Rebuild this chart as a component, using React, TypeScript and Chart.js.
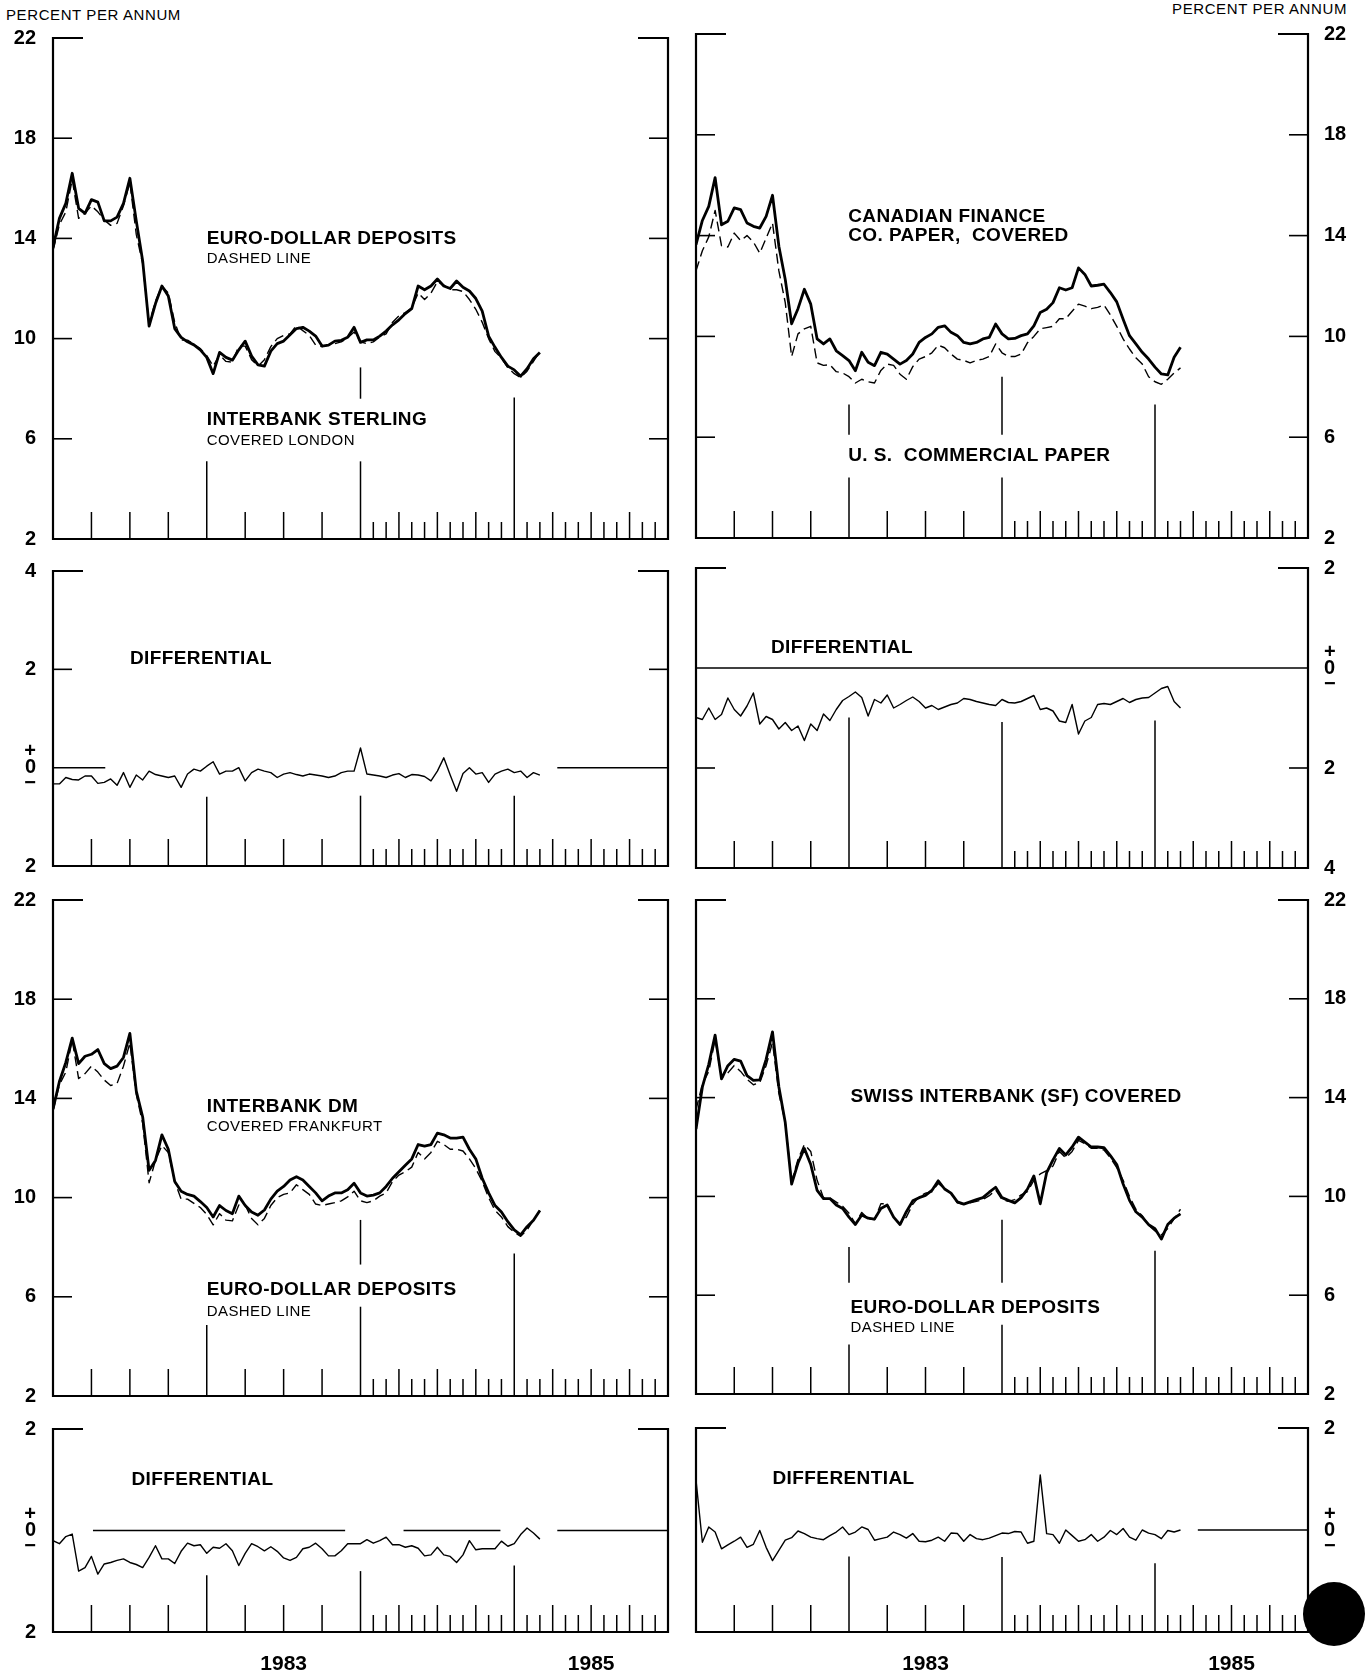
import React, { useEffect, useRef } from "react";
import { Chart, registerables } from "chart.js";

Chart.register(...registerables);

// ---------------- DATA (semi-monthly observations, percent per annum) ----------------
const periods = [
  "1982-01-01", "1982-01-16", "1982-02-01", "1982-02-16", "1982-03-01", "1982-03-16",
  "1982-04-01", "1982-04-16", "1982-05-01", "1982-05-16", "1982-06-01", "1982-06-16",
  "1982-07-01", "1982-07-16", "1982-08-01", "1982-08-16", "1982-09-01", "1982-09-16",
  "1982-10-01", "1982-10-16", "1982-11-01", "1982-11-16", "1982-12-01", "1982-12-16",
  "1983-01-01", "1983-01-16", "1983-02-01", "1983-02-16", "1983-03-01", "1983-03-16",
  "1983-04-01", "1983-04-16", "1983-05-01", "1983-05-16", "1983-06-01", "1983-06-16",
  "1983-07-01", "1983-07-16", "1983-08-01", "1983-08-16", "1983-09-01", "1983-09-16",
  "1983-10-01", "1983-10-16", "1983-11-01", "1983-11-16", "1983-12-01", "1983-12-16",
  "1984-01-01", "1984-01-16", "1984-02-01", "1984-02-16", "1984-03-01", "1984-03-16",
  "1984-04-01", "1984-04-16", "1984-05-01", "1984-05-16", "1984-06-01", "1984-06-16",
  "1984-07-01", "1984-07-16", "1984-08-01", "1984-08-16", "1984-09-01", "1984-09-16",
  "1984-10-01", "1984-10-16", "1984-11-01", "1984-11-16", "1984-12-01", "1984-12-16",
  "1985-01-01", "1985-01-16", "1985-02-01", "1985-02-16", "1985-03-01",
];

const euroDollarDeposits = [
  13.5, 14.55, 15.06, 16.35, 14.8, 15.0, 15.3, 15.06, 14.74, 14.52,
  14.6, 15.3, 16.23, 14.16, 12.99, 10.6, 11.5, 12.1, 11.82, 10.65,
  9.94, 9.94, 9.77, 9.6, 9.32, 8.9, 9.35, 9.09, 9.06, 9.7,
  9.7, 9.16, 8.9, 9.16, 9.68, 10.0, 10.13, 10.19, 10.52, 10.32,
  10.13, 9.74, 9.68, 9.74, 9.8, 9.87, 10.03, 10.26, 9.87, 9.8,
  9.87, 10.06, 10.19, 10.65, 10.91, 11.04, 11.23, 11.82, 11.56, 11.82,
  12.27, 12.14, 11.95, 11.95, 11.88, 11.56, 11.17, 10.65, 10.0, 9.48,
  9.22, 8.83, 8.6, 8.44, 8.7, 9.09, 9.48,
];

const interbankSterlingCovered = [
  13.64, 14.8, 15.4, 16.6, 15.2, 15.0, 15.55, 15.45, 14.7, 14.7,
  14.85, 15.4, 16.4, 14.7, 13.1, 10.5, 11.4, 12.1, 11.7, 10.4,
  10.05, 9.87, 9.75, 9.55, 9.25, 8.6, 9.45, 9.25, 9.14, 9.55,
  9.9, 9.3, 8.95, 8.9, 9.5, 9.8, 9.9, 10.15, 10.4, 10.45,
  10.3, 10.1, 9.7, 9.74, 9.9, 9.93, 10.05, 10.45, 9.85, 9.95,
  9.95, 10.1, 10.3, 10.55, 10.75, 11.0, 11.2, 12.1, 11.95, 12.1,
  12.38, 12.1, 12.0, 12.3, 12.05, 11.9, 11.6, 11.1, 10.1, 9.65,
  9.25, 8.9, 8.75, 8.5, 8.8, 9.2, 9.45,
];

const canadianFinanceCovered = [
  13.64, 14.6, 15.16, 16.3, 14.43, 14.57, 15.1, 15.03, 14.5, 14.37,
  14.3, 14.76, 15.6, 13.58, 12.26, 10.5, 11.1, 11.87, 11.28, 9.9,
  9.7, 9.9, 9.43, 9.24, 9.04, 8.64, 9.37, 8.97, 8.84, 9.37,
  9.3, 9.1, 8.9, 9.04, 9.3, 9.76, 9.96, 10.1, 10.36, 10.42,
  10.16, 10.03, 9.76, 9.7, 9.76, 9.9, 9.96, 10.49, 10.1, 9.9,
  9.92, 10.03, 10.1, 10.42, 10.95, 11.08, 11.34, 11.93, 11.84, 11.93,
  12.72, 12.46, 12.0, 12.03, 12.07, 11.74, 11.37, 10.68, 10.03, 9.7,
  9.37, 9.1, 8.78, 8.51, 8.47, 9.17, 9.57,
];

const usCommercialPaper = [
  12.6, 13.4, 13.95, 15.0, 13.6, 13.55, 14.1, 13.8, 14.0, 13.75,
  13.3, 13.9, 14.5, 12.6, 11.34, 9.2, 10.1, 10.3, 10.4, 8.95,
  8.85, 8.88, 8.6, 8.55, 8.4, 8.15, 8.3, 8.2, 8.15, 8.65,
  8.9, 8.85, 8.5, 8.3, 8.8, 9.1, 9.2, 9.35, 9.65, 9.55,
  9.3, 9.1, 9.05, 8.95, 9.05, 9.1, 9.2, 9.7, 9.35, 9.2,
  9.2, 9.3, 9.75, 10.0, 10.3, 10.35, 10.4, 10.7, 10.7, 11.0,
  11.28, 11.2, 11.1, 11.15, 11.25, 10.85, 10.4, 9.9, 9.5, 9.15,
  8.9, 8.4, 8.2, 8.1, 8.3, 8.55, 8.75,
];

const interbankDMCovered = [
  13.57, 14.68, 15.45, 16.43, 15.4, 15.7, 15.78, 15.97, 15.4, 15.2,
  15.3, 15.65, 16.62, 14.29, 13.25, 11.1, 11.5, 12.53, 11.95, 10.65,
  10.26, 10.13, 10.06, 9.84, 9.6, 9.22, 9.68, 9.48, 9.35, 10.06,
  9.68, 9.42, 9.29, 9.5, 9.94, 10.26, 10.45, 10.71, 10.84, 10.71,
  10.45, 10.19, 9.87, 10.06, 10.19, 10.19, 10.32, 10.58, 10.19, 10.06,
  10.1, 10.19, 10.45, 10.78, 11.04, 11.3, 11.56, 12.14, 12.08, 12.14,
  12.6, 12.53, 12.4, 12.4, 12.44, 11.95, 11.56, 10.78, 10.19, 9.68,
  9.42, 9.03, 8.7, 8.5, 8.83, 9.09, 9.48,
];

const swissInterbankCovered = [
  12.73, 14.43, 15.35, 16.53, 14.76, 15.29, 15.55, 15.48, 14.89, 14.7,
  14.72, 15.55, 16.66, 14.43, 12.99, 10.5, 11.35, 11.94, 11.29, 10.24,
  9.91, 9.91, 9.65, 9.51, 9.16, 8.86, 9.25, 9.12, 9.08, 9.51,
  9.65, 9.16, 8.86, 9.38, 9.82, 9.95, 10.04, 10.24, 10.63, 10.3,
  10.13, 9.78, 9.69, 9.78, 9.87, 9.95, 10.17, 10.37, 9.95, 9.84,
  9.74, 9.95, 10.3, 10.83, 9.7, 10.96, 11.48, 11.94, 11.68, 12.0,
  12.4, 12.2, 12.0, 12.0, 11.97, 11.65, 11.29, 10.5, 9.84, 9.38,
  9.16, 8.86, 8.69, 8.27, 8.86, 9.12, 9.29,
];

const differentialSterling = [
  -0.33, -0.33, -0.2, -0.24, -0.25, -0.17, -0.17, -0.32, -0.3, -0.23,
  -0.36, -0.1, -0.4, -0.15, -0.25, -0.07, -0.14, -0.17, -0.2, -0.17,
  -0.4, -0.13, -0.03, -0.07, 0.03, 0.12, -0.13, -0.07, -0.07, 0.0,
  -0.27, -0.1, -0.03, -0.07, -0.1, -0.2, -0.13, -0.1, -0.14, -0.17,
  -0.13, -0.15, -0.17, -0.2, -0.17, -0.1, -0.07, -0.07, 0.4, -0.13,
  -0.15, -0.17, -0.2, -0.15, -0.12, -0.2, -0.14, -0.15, -0.18, -0.27,
  -0.07, 0.2, -0.15, -0.48, -0.12, 0.0, -0.13, -0.1, -0.3, -0.13,
  -0.07, -0.03, -0.1, -0.07, -0.2, -0.1, -0.15,
];

const differentialCanadian = [
  -0.99, -1.03, -0.8, -1.03, -0.93, -0.6, -0.83, -0.96, -0.76, -0.5,
  -1.12, -0.97, -1.03, -1.22, -1.09, -1.25, -1.16, -1.45, -1.12, -1.25,
  -0.92, -1.05, -0.83, -0.65, -0.57, -0.48, -0.59, -0.96, -0.63, -0.7,
  -0.54, -0.8, -0.73, -0.65, -0.58, -0.67, -0.8, -0.75, -0.83, -0.78,
  -0.73, -0.7, -0.61, -0.63, -0.67, -0.7, -0.73, -0.75, -0.63, -0.69,
  -0.7, -0.67, -0.61, -0.55, -0.83, -0.8, -0.86, -1.06, -1.09, -0.73,
  -1.32, -1.06, -0.99, -0.73, -0.71, -0.73, -0.67, -0.61, -0.69, -0.63,
  -0.6, -0.59, -0.5, -0.41, -0.37, -0.67, -0.8,
];

const differentialDM = [
  -0.2, -0.26, -0.12, -0.07, -0.8, -0.73, -0.51, -0.86, -0.66, -0.63,
  -0.59, -0.56, -0.63, -0.67, -0.73, -0.53, -0.3, -0.56, -0.56, -0.65,
  -0.41, -0.25, -0.3, -0.28, -0.45, -0.33, -0.35, -0.26, -0.4, -0.69,
  -0.45, -0.26, -0.32, -0.4, -0.32, -0.41, -0.54, -0.59, -0.53, -0.36,
  -0.33, -0.25, -0.36, -0.5, -0.5, -0.4, -0.26, -0.26, -0.26, -0.18,
  -0.25, -0.2, -0.13, -0.28, -0.28, -0.33, -0.3, -0.35, -0.5, -0.48,
  -0.33, -0.48, -0.51, -0.63, -0.48, -0.2, -0.38, -0.36, -0.36, -0.36,
  -0.21, -0.31, -0.26, -0.08, 0.05, -0.05, -0.17,
];

const differentialSwiss = [
  0.98, -0.24, 0.06, -0.04, -0.37, -0.29, -0.22, -0.14, -0.34, -0.28,
  -0.01, -0.34, -0.6, -0.4, -0.2, -0.15, -0.02, -0.07, -0.14, -0.17,
  -0.19, -0.11, -0.04, 0.06, -0.09, -0.04, 0.06, 0.01, -0.2, -0.17,
  -0.14, -0.04, -0.09, -0.16, -0.07, -0.22, -0.23, -0.2, -0.14, -0.22,
  -0.06, -0.07, -0.22, -0.09, -0.17, -0.19, -0.16, -0.11, -0.06, -0.07,
  -0.03, -0.04, -0.26, -0.22, 1.08, -0.07, -0.09, -0.26, 0.0, -0.11,
  -0.22, -0.19, -0.09, -0.22, -0.14, -0.01, -0.09, 0.03, -0.14, -0.2,
  0.0, -0.06, -0.09, -0.17, -0.01, -0.04, 0.0,
];

// axis calendar
const xStartYear = 1982;
const xEndYear = 1986;
const quarterTickYears = [1982, 1983];
const monthTickYears = [1984, 1985];
const yearLabelPositions = [1983.5, 1985.5];
const yearLabels = ["1983", "1985"];

// ---------------- LAYOUT ----------------
const FONT = '"Liberation Sans", Arial, Helvetica, sans-serif';
const PAD = 28;
const PAGE_H = 1674;
const COLS = {
  left: { canvasLeft: 0, canvasWidth: 684, plotLeft: 53, plotRight: 668 },
  right: { canvasLeft: 684, canvasWidth: 682, plotLeft: 696, plotRight: 1308 },
};

type Note = { x: number; y: number; text: string; big: boolean };
type Mark = [number, number, number];
type SeriesSpec = { values: number[]; kind: "solid" | "dashed" | "thin" };
type PanelSpec = {
  side: "left" | "right";
  top: number;
  bottom: number;
  yMin: number;
  yMax: number;
  yStep: number;
  series: SeriesSpec[];
  zeroSegments?: [number, number][];
  yearMarks: Mark[];
  notes: Note[];
  showYears?: boolean;
};

const panels: PanelSpec[] = [
  {
    side: "left", top: 38, bottom: 539, yMin: 2, yMax: 22, yStep: 4,
    series: [
      { values: interbankSterlingCovered, kind: "solid" },
      { values: euroDollarDeposits, kind: "dashed" },
    ],
    yearMarks: [[1983, 2, 5.1], [1984, 2, 5.1], [1984, 7.6, 8.85], [1985, 2, 7.65]],
    notes: [
      { x: 1983.0, y: 14.0, text: "EURO-DOLLAR DEPOSITS", big: true },
      { x: 1983.0, y: 13.18, text: "DASHED LINE", big: false },
      { x: 1983.0, y: 6.75, text: "INTERBANK STERLING", big: true },
      { x: 1983.0, y: 5.92, text: "COVERED LONDON", big: false },
    ],
  },
  {
    side: "right", top: 34, bottom: 538, yMin: 2, yMax: 22, yStep: 4,
    series: [
      { values: canadianFinanceCovered, kind: "solid" },
      { values: usCommercialPaper, kind: "dashed" },
    ],
    yearMarks: [[1983, 2, 4.4], [1983, 6.1, 7.3], [1984, 2, 4.4], [1984, 6.1, 8.4], [1985, 2, 7.3]],
    notes: [
      { x: 1982.995, y: 14.76, text: "CANADIAN FINANCE", big: true },
      { x: 1982.995, y: 14.0, text: "CO. PAPER,  COVERED", big: true },
      { x: 1982.995, y: 5.25, text: "U. S.  COMMERCIAL PAPER", big: true },
    ],
  },
  {
    side: "left", top: 571, bottom: 866, yMin: -2, yMax: 4, yStep: 2,
    series: [{ values: differentialSterling, kind: "thin" }],
    zeroSegments: [[1982, 1982.34], [1985.28, 1986]],
    yearMarks: [[1983, -2, -0.59], [1984, -2, -0.57], [1985, -2, -0.57]],
    notes: [{ x: 1982.5, y: 2.22, text: "DIFFERENTIAL", big: true }],
  },
  {
    side: "right", top: 568, bottom: 868, yMin: -4, yMax: 2, yStep: 2,
    series: [{ values: differentialCanadian, kind: "thin" }],
    zeroSegments: [[1982, 1986]],
    yearMarks: [[1983, -4, -0.99], [1984, -4, -1.08], [1985, -4, -1.05]],
    notes: [{ x: 1982.49, y: 0.41, text: "DIFFERENTIAL", big: true }],
  },
  {
    side: "left", top: 900, bottom: 1396, yMin: 2, yMax: 22, yStep: 4,
    series: [
      { values: interbankDMCovered, kind: "solid" },
      { values: euroDollarDeposits, kind: "dashed" },
    ],
    yearMarks: [[1983, 2, 4.86], [1984, 2, 5.6], [1984, 7.3, 9.1], [1985, 2, 7.75]],
    notes: [
      { x: 1983.0, y: 13.67, text: "INTERBANK DM", big: true },
      { x: 1983.0, y: 12.86, text: "COVERED FRANKFURT", big: false },
      { x: 1983.0, y: 6.27, text: "EURO-DOLLAR DEPOSITS", big: true },
      { x: 1983.0, y: 5.4, text: "DASHED LINE", big: false },
    ],
  },
  {
    side: "right", top: 900, bottom: 1394, yMin: 2, yMax: 22, yStep: 4,
    series: [
      { values: swissInterbankCovered, kind: "solid" },
      { values: euroDollarDeposits, kind: "dashed" },
    ],
    yearMarks: [[1983, 2, 4.0], [1983, 6.5, 7.95], [1984, 2, 4.8], [1984, 6.5, 9.05], [1985, 2, 7.8]],
    notes: [
      { x: 1983.01, y: 14.04, text: "SWISS INTERBANK (SF) COVERED", big: true },
      { x: 1983.01, y: 5.5, text: "EURO-DOLLAR DEPOSITS", big: true },
      { x: 1983.01, y: 4.66, text: "DASHED LINE", big: false },
    ],
  },
  {
    side: "left", top: 1429, bottom: 1632, yMin: -2, yMax: 2, yStep: 2,
    series: [{ values: differentialDM, kind: "thin" }],
    zeroSegments: [[1982.26, 1983.9], [1984.28, 1984.91], [1985.28, 1986]],
    yearMarks: [[1983, -2, -0.88], [1984, -2, -0.8], [1985, -2, -0.69]],
    notes: [{ x: 1982.51, y: 1.0, text: "DIFFERENTIAL", big: true }],
    showYears: true,
  },
  {
    side: "right", top: 1428, bottom: 1632, yMin: -2, yMax: 2, yStep: 2,
    series: [{ values: differentialSwiss, kind: "thin" }],
    zeroSegments: [[1985.28, 1986]],
    yearMarks: [[1983, -2, -0.52], [1984, -2, -0.53], [1985, -2, -0.65]],
    notes: [{ x: 1982.5, y: 1.0, text: "DIFFERENTIAL", big: true }],
    showYears: true,
  },
];

const toYear = (p: string) => {
  const [y, m, d] = p.split("-").map(Number);
  return y + (m - 1 + (d - 1) / 30) / 12;
};

function decorPlugin(spec: PanelSpec) {
  return {
    id: "decor",
    afterDatasetsDraw(chart: any) {
      const { ctx, chartArea: a, scales } = chart;
      const xs = scales.x;
      const ys = scales.y;
      const seg = (x1: number, y1: number, x2: number, y2: number) => {
        ctx.beginPath();
        ctx.moveTo(x1, y1);
        ctx.lineTo(x2, y2);
        ctx.stroke();
      };
      ctx.save();
      ctx.strokeStyle = "#000";
      ctx.lineCap = "butt";
      // frame with open top
      ctx.lineWidth = 2.2;
      ctx.beginPath();
      ctx.moveTo(a.left + 30, a.top);
      ctx.lineTo(a.left, a.top);
      ctx.lineTo(a.left, a.bottom);
      ctx.lineTo(a.right, a.bottom);
      ctx.lineTo(a.right, a.top);
      ctx.lineTo(a.right - 30, a.top);
      ctx.stroke();
      // inward y ticks
      ctx.lineWidth = 1.6;
      for (const t of ys.ticks) {
        if (t.value === ys.min || t.value === ys.max || t.value === 0) continue;
        const y = ys.getPixelForValue(t.value);
        seg(a.left, y, a.left + 19, y);
        seg(a.right, y, a.right - 19, y);
      }
      // x ticks rising from the bottom axis
      ctx.lineWidth = 1.5;
      for (const yr of quarterTickYears) {
        for (let q = 1; q < 4; q++) {
          const x = xs.getPixelForValue(yr + q / 4);
          seg(x, a.bottom, x, a.bottom - 27);
        }
      }
      for (const yr of monthTickYears) {
        for (let m = 1; m < 12; m++) {
          const x = xs.getPixelForValue(yr + m / 12);
          seg(x, a.bottom, x, a.bottom - (m % 3 === 0 ? 27 : 17));
        }
      }
      // year marker lines
      for (const [yr, v0, v1] of spec.yearMarks) {
        const x = xs.getPixelForValue(yr);
        seg(x, ys.getPixelForValue(v0), x, ys.getPixelForValue(v1));
      }
      // zero reference line pieces
      if (spec.zeroSegments) {
        const y0 = ys.getPixelForValue(0);
        for (const [s, e] of spec.zeroSegments) {
          seg(xs.getPixelForValue(s), y0, xs.getPixelForValue(e), y0);
        }
      }
      // annotations
      ctx.fillStyle = "#000";
      ctx.textAlign = "left";
      ctx.textBaseline = "middle";
      for (const n of spec.notes) {
        ctx.font = n.big ? `bold 19px ${FONT}` : `15px ${FONT}`;
        try {
          (ctx as any).letterSpacing = n.big ? "0.4px" : "0.4px";
        } catch (e) {}
        ctx.fillText(n.text, xs.getPixelForValue(n.x), ys.getPixelForValue(n.y));
      }
      ctx.restore();
    },
  };
}

function Panel({ spec }: { spec: PanelSpec }) {
  const ref = useRef<HTMLCanvasElement>(null);
  const col = COLS[spec.side];
  const canvasTop = spec.top - PAD;
  const canvasBottom = spec.showYears ? PAGE_H : spec.bottom + PAD;
  const h = canvasBottom - canvasTop;
  useEffect(() => {
    const isLeft = spec.side === "left";
    const axisWidth = isLeft ? col.plotLeft - col.canvasLeft : col.canvasLeft + col.canvasWidth - col.plotRight;
    const xs = periods.map(toYear);
    const datasets = spec.series.map((s) => ({
      data: s.values.map((v, i) => ({ x: xs[i], y: v })),
      borderColor: "#000",
      backgroundColor: "#000",
      borderWidth: s.kind === "solid" ? 2.8 : 1.4,
      borderDash: s.kind === "dashed" ? [10, 5] : [],
      borderJoinStyle: "round" as const,
      pointRadius: 0,
      tension: 0,
      fill: false,
      order: s.kind === "dashed" ? 1 : 0,
    }));
    const chart = new Chart(ref.current as HTMLCanvasElement, {
      type: "line",
      data: { datasets },
      options: {
        responsive: false,
        maintainAspectRatio: false,
        animation: false,
        events: [],
        layout: {
          padding: {
            top: PAD,
            bottom: spec.showYears ? 0 : PAD,
            left: isLeft ? 0 : col.plotLeft - col.canvasLeft,
            right: isLeft ? col.canvasLeft + col.canvasWidth - col.plotRight : 0,
          },
        },
        plugins: { legend: { display: false }, tooltip: { enabled: false } },
        scales: {
          x: {
            type: "linear",
            min: xStartYear,
            max: xEndYear,
            display: !!spec.showYears,
            position: "bottom",
            grid: { display: false, drawTicks: false },
            border: { display: false },
            afterBuildTicks: (axis: any) => {
              axis.ticks = yearLabelPositions.map((v) => ({ value: v }));
            },
            afterFit: (axis: any) => {
              axis.height = spec.showYears ? PAGE_H - spec.bottom : 0;
            },
            ticks: {
              autoSkip: false,
              maxRotation: 0,
              padding: 20,
              color: "#000",
              font: { family: FONT, size: 21, weight: "bold" },
              callback: (v: any) => {
                const i = yearLabelPositions.indexOf(Number(v));
                return i >= 0 ? yearLabels[i] : "";
              },
            },
          },
          y: {
            type: "linear",
            position: spec.side,
            min: spec.yMin,
            max: spec.yMax,
            grid: { display: false, drawTicks: false },
            border: { display: false },
            afterFit: (axis: any) => {
              axis.width = axisWidth;
            },
            ticks: {
              stepSize: spec.yStep,
              padding: isLeft ? 17 : 16,
              color: "#000",
              font: { family: FONT, size: 20, weight: "bold", lineHeight: 0.8 },
              callback: (v: any) => (Number(v) === 0 ? ["+", "0", "\u2212"] : String(Math.abs(Number(v)))),
            },
          },
        },
      } as any,
      plugins: [decorPlugin(spec)],
    });
    return () => chart.destroy();
  }, []);
  return (
    <canvas
      ref={ref}
      width={col.canvasWidth}
      height={h}
      style={{ position: "absolute", left: col.canvasLeft, top: canvasTop, width: col.canvasWidth, height: h }}
    />
  );
}

export default function App() {
  const unitStyle: React.CSSProperties = {
    position: "absolute",
    fontFamily: FONT,
    fontSize: 15,
    lineHeight: "15px",
    letterSpacing: "0.6px",
    color: "#000",
    whiteSpace: "nowrap",
  };
  return (
    <div style={{ position: "absolute", left: 0, top: 0, width: 1366, height: 1674, background: "#fff", overflow: "hidden" }}>
      <div style={{ ...unitStyle, left: 6, top: 7 }}>PERCENT PER ANNUM</div>
      <div style={{ ...unitStyle, right: 19, top: 1 }}>PERCENT PER ANNUM</div>
      {panels.map((p, i) => (
        <Panel key={i} spec={p} />
      ))}
      <div style={{ position: "absolute", left: 1303, top: 1582, width: 62, height: 64, borderRadius: "50%", background: "#000" }} />
    </div>
  );
}
